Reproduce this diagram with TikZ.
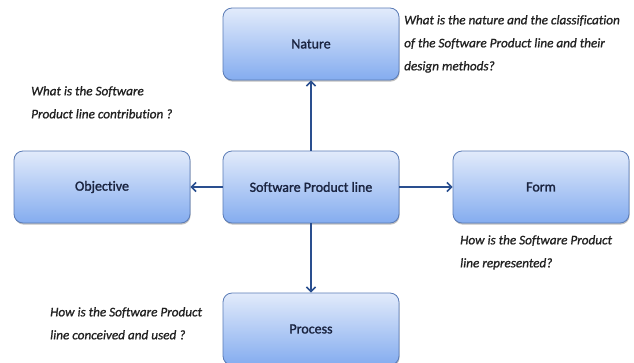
\documentclass[tikz,border=0pt]{standalone}
\usepackage{fontspec}
\setmainfont{Carlito}[Ligatures=NoCommon]
\newfontfamily\boxfont{Carlito}[Ligatures=NoCommon, FakeBold=1.6]
\newfontfamily\notefont{Carlito}[Ligatures=NoCommon, ItalicFeatures={FakeBold=1.0}]
\usetikzlibrary{arrows.meta,shadows}
\definecolor{boxtop}{HTML}{E2EBFB}
\definecolor{boxbot}{HTML}{84ACEF}
\definecolor{boxline}{HTML}{5A7BB6}
\definecolor{boxtext}{HTML}{1A2440}
\definecolor{arrowblue}{HTML}{2A4F8F}
\definecolor{notetext}{HTML}{222222}
\tikzset{
  topic/.style={draw=boxline, line width=0.8pt, rounded corners=9pt,
    top color=boxtop, bottom color=boxbot,
    minimum width=176pt, minimum height=72pt, inner sep=0pt,
    font=\boxfont\fontsize{14}{16}\selectfont, text=boxtext,
    drop shadow={shadow xshift=0.6pt, shadow yshift=-1.6pt, opacity=0.35, fill=black!70}},
  link/.style={draw=arrowblue, line width=2.2pt,
    -{Straight Barb[length=4.5pt,width=9pt,line width=1.6pt]}},
  note/.style={align=left, anchor=north west, inner sep=0pt,
    font=\notefont\fontsize{13.2}{23}\selectfont\itshape, text=notetext}
}
\begin{document}
\begin{tikzpicture}[x=1pt,y=-1pt]
  \path[use as bounding box, clip] (0,0) rectangle (634,362);
  \fill[white] (0,0) rectangle (634,362);

  % topic boxes
  \node[topic] (nature) at (311,44)  {Nature};
  \node[topic] (spl)    at (311,187) {Software Product line};
  \node[topic] (obj)    at (102,187) {Objective};
  \node[topic] (form)   at (541,187) {Form};
  \node[topic] (proc)   at (311,329) {Process};

  % connectors from the central box
  \draw[link] (spl.north) -- (nature.south);
  \draw[link] (spl.west)  -- (obj.east);
  \draw[link] (spl.east)  -- (form.west);
  \draw[link] (spl.south) -- (proc.north);

  % questions
  \node[note] (qnature) at (404,15)
    {What is the nature and the classification\\of the Software Product line and their\\design methods?};
  \node[note] (qobj) at (31,86)
    {What is the Software\\Product line contribution ?};
  \node[note] (qform) at (460,235)
    {How is the Software Product\\line represented?};
  \node[note] (qproc) at (50,307)
    {How is the Software Product\\line conceived and used ?};
\end{tikzpicture}
\end{document}
